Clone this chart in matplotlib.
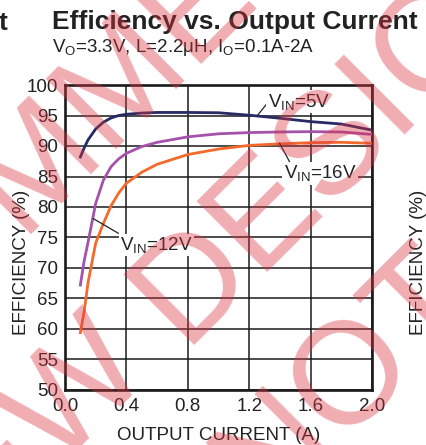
import matplotlib
matplotlib.use("Agg")
import matplotlib.pyplot as plt

plt.rcParams['font.family'] = ['Liberation Sans', 'DejaVu Sans']
plt.rcParams['mathtext.fontset'] = 'custom'
plt.rcParams['mathtext.rm'] = 'Liberation Sans'
plt.rcParams['mathtext.it'] = 'Liberation Sans'
plt.rcParams['mathtext.default'] = 'regular'

# ---------------- data ----------------
current = [0.1, 0.125, 0.15, 0.2, 0.25, 0.3, 0.35, 0.4, 0.5, 0.6, 0.8, 1.0, 1.2, 1.4, 1.6, 1.8, 2.0]
eff_5v  = [88.2, 89.7, 91.0, 92.8, 93.9, 94.6, 95.0, 95.2, 95.4, 95.5, 95.5, 95.45, 95.05, 94.55, 94.0, 93.6, 92.6]
eff_16v = [67.2, 71.2, 74.2, 80.6, 84.4, 86.6, 87.9, 88.8, 89.9, 90.6, 91.5, 92.0, 92.2, 92.3, 92.35, 92.3, 91.9]
eff_12v = [59.4, 62.9, 67.6, 74.1, 77.3, 80.2, 82.3, 83.9, 85.7, 87.0, 88.6, 89.5, 90.1, 90.35, 90.55, 90.6, 90.45]

x_ticks = [0.0, 0.4, 0.8, 1.2, 1.6, 2.0]
x_ticklabels = ["0.0", "0.4", "0.8", "1.2", "1.6", "2.0"]
y_ticks = [50, 55, 60, 65, 70, 75, 80, 85, 90, 95, 100]

title = "Efficiency vs. Output Current"
subtitle = r"V$_{\mathrm{O}}$=3.3V, L=2.2μH, I$_{\mathrm{O}}$=0.1A-2A"
xlabel = "OUTPUT CURRENT (A)"
ylabel = "EFFICIENCY (%)"
watermark = "NOT RECOMMENDED FOR NEW DESIGNS"

W, H = 426, 445
def px(x, y):
    return x / W, 1 - y / H

fig = plt.figure(figsize=(W / 100, H / 100), dpi=100)
ax = fig.add_axes([65 / W, 55 / H, 307 / W, 305 / H])

ax.plot(current, eff_5v, color="#272A63", lw=2.0, zorder=3)
ax.plot(current, eff_16v, color="#A452AA", lw=2.0, zorder=3)
ax.plot(current, eff_12v, color="#F36A2C", lw=2.0, zorder=3)

ax.set_xlim(0, 2.0)
ax.set_ylim(50, 100)
ax.set_xticks(x_ticks)
ax.set_xticklabels(x_ticklabels)
ax.set_yticks(y_ticks)
ax.grid(True, color="#1a1a1a", lw=1.1, zorder=1)
ax.set_axisbelow(True)
ax.tick_params(length=0, labelsize=13.5, colors="#222222", pad=5)
ax.tick_params(axis='x', pad=6)
for s in ax.spines.values():
    s.set_linewidth(1.9)
    s.set_color("#1a1a1a")

lab = dict(fontsize=13.5, color="#222222", zorder=5,
           bbox=dict(facecolor="white", edgecolor="none", pad=1.0))
ax.text(1.32, 96.45, r"V$_{\mathrm{IN}}$=5V", ha="left", va="baseline", **lab)
ax.plot([1.257, 1.333], [95.1, 97.5], color="#222222", lw=0.9, zorder=4)
ax.text(1.425, 84.7, r"V$_{\mathrm{IN}}$=16V", ha="left", va="baseline", **lab)
ax.plot([1.398, 1.474], [90.45, 86.9], color="#222222", lw=0.9, zorder=4)
ax.text(0.358, 72.95, r"V$_{\mathrm{IN}}$=12V", ha="left", va="baseline", **lab)
ax.plot([0.184, 0.347], [78.1, 75.7], color="#222222", lw=0.9, zorder=4)

fig.text(*px(52, 29.5), title, fontsize=19, fontweight="bold", color="#222222", ha="left", va="baseline")
fig.text(*px(-1.5, 29.5), "t", fontsize=19, fontweight="bold", color="#222222", ha="left", va="baseline")
fig.text(*px(52, 52.5), subtitle, fontsize=13.5, color="#222222", ha="left", va="baseline")
fig.text(*px(219, 440), xlabel, fontsize=13.5, color="#222222", ha="center", va="baseline")
fig.text(*px(13, 262), ylabel, fontsize=13.5, color="#222222", ha="left", va="center", rotation=90)
fig.text(*px(427, 262), ylabel, fontsize=13.5, color="#222222", ha="right", va="center", rotation=90)

# watermark
wm = dict(fontsize=104, color=(0.86, 0.2, 0.25), alpha=0.4, rotation=45,
          rotation_mode="anchor", va="baseline", zorder=10)
fig.text(*px(182, 345), "DESIGNS", ha="left", **wm)
fig.text(*px(182, 345), "FOR NEW ", ha="right", **wm)
fig.text(*px(268, 521), watermark, ha="left", **wm)
fig.text(*px(23, 242), "MMENDED FOR", ha="left", **wm)
fig.text(*px(23, 242), "NOT RECO", ha="right", **wm)

fig.savefig("out.png", dpi=100)
